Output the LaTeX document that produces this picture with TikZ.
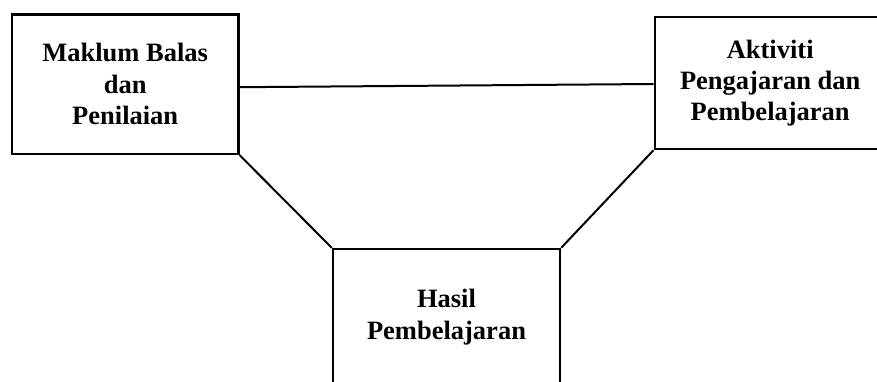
\documentclass[tikz,border=0pt]{standalone}
\usepackage{fontspec}
\setmainfont{Liberation Serif}
\begin{document}
\begin{tikzpicture}[x=1pt,y=-1pt,
  boxnode/.style={draw=black, line width=2.4pt, inner sep=0pt, align=center,
    font=\fontsize{26.5}{31.3}\selectfont\bfseries},
  link/.style={draw=black, line width=2pt}]
\useasboundingbox (0,0) rectangle (877,381);
\clip (0,0) rectangle (877,381);
\fill[white] (0,0) rectangle (877,381);
\node[boxnode, minimum width=226.5pt, minimum height=139.5pt] (L) at (125.2,84.2) {Maklum Balas\\dan\\Penilaian};
\node[boxnode, minimum width=231pt, minimum height=132pt] (R) at (770.2,83) {Aktiviti\\Pengajaran dan\\Pembelajaran};
\node[boxnode, minimum width=227pt, minimum height=136pt] (H) at (446.5,317) {Hasil\\Pembelajaran};
\draw[link] ([yshift=-3pt]L.east) -- ([yshift=-1pt]R.west);
\draw[link] (L.south east) -- (H.north west);
\draw[link] (R.south west) -- (H.north east);
\end{tikzpicture}
\end{document}
